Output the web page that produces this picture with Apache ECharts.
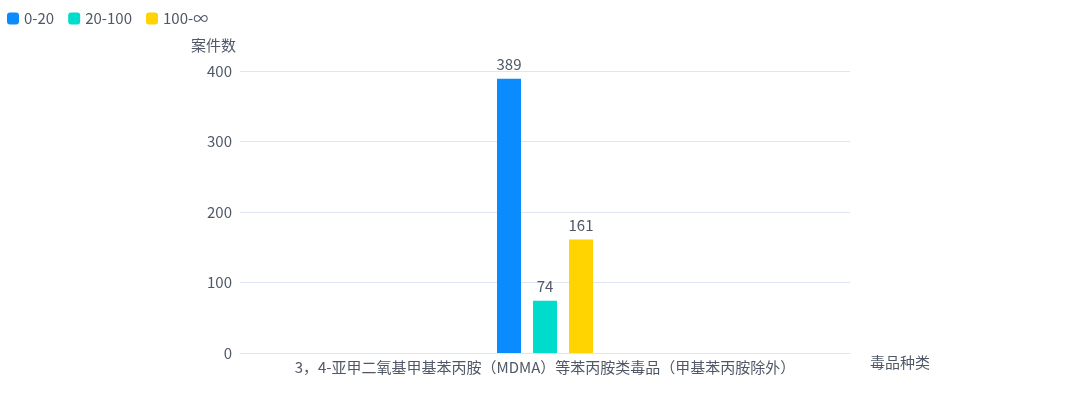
<!DOCTYPE html>
<html>
<head>
<meta charset="utf-8">
<script src="https://cdn.jsdelivr.net/npm/echarts@6/dist/echarts.min.js"></script>
<style>
  html, body { margin: 0; padding: 0; background: #fff; }
  #main { width: 1080px; height: 398px; }
</style>
</head>
<body>
<div id="main"></div>
<script>
// 毒品案件数量分布
var categories = ['3，4-亚甲二氧基甲基苯丙胺（MDMA）等苯丙胺类毒品（甲基苯丙胺除外）'];
var seriesNames = ['0-20', '20-100', '100-∞'];
var values020 = [389];
var values20100 = [74];
var values100up = [161];
var yTicks = [0, 100, 200, 300, 400];

var colors = ['#0a8cff', '#00dccc', '#ffd400'];
var font = '"Noto Sans CJK SC", "Noto Sans", sans-serif';

function makeBar(name, data, color) {
    return {
        name: name,
        type: 'bar',
        data: data,
        barWidth: 24,
        barGap: '50%',
        itemStyle: { color: color },
        label: {
            show: true,
            position: 'top',
            distance: 7,
            color: '#505868',
            fontSize: 15,
            fontFamily: font
        }
    };
}

var chart = echarts.init(document.getElementById('main'));
var option = {
    animation: false,
    textStyle: { fontFamily: font },
    legend: {
        left: 2,
        top: 6,
        itemWidth: 12,
        itemHeight: 12,
        itemGap: 14,
        icon: 'roundRect',
        textStyle: { color: '#505868', fontSize: 15, fontFamily: font },
        data: seriesNames
    },
    grid: {
        left: 240,
        right: 230,
        top: 71,
        bottom: 45,
        containLabel: false
    },
    xAxis: {
        type: 'category',
        data: categories,
        name: '毒品种类',
        nameGap: 20,
        nameTextStyle: { color: '#505868', fontSize: 15, verticalAlign: 'top', padding: [2, 0, 0, 0] },
        axisTick: { show: false },
        axisLine: { lineStyle: { color: '#e0e6f1' } },
        axisLabel: { color: '#505868', fontSize: 15, margin: 7 }
    },
    yAxis: {
        type: 'value',
        name: '案件数',
        nameGap: 18,
        nameTextStyle: { color: '#505868', fontSize: 15, align: 'right', padding: [0, 4, 0, 0] },
        min: yTicks[0],
        max: yTicks[yTicks.length - 1],
        interval: 100,
        axisLine: { show: false },
        axisTick: { show: false },
        axisLabel: { color: '#505868', fontSize: 15, margin: 8 },
        splitLine: { lineStyle: { color: '#e0e6f1' } }
    },
    series: [
        makeBar(seriesNames[0], values020, colors[0]),
        makeBar(seriesNames[1], values20100, colors[1]),
        makeBar(seriesNames[2], values100up, colors[2])
    ]
};
chart.setOption(option);
</script>
</body>
</html>
